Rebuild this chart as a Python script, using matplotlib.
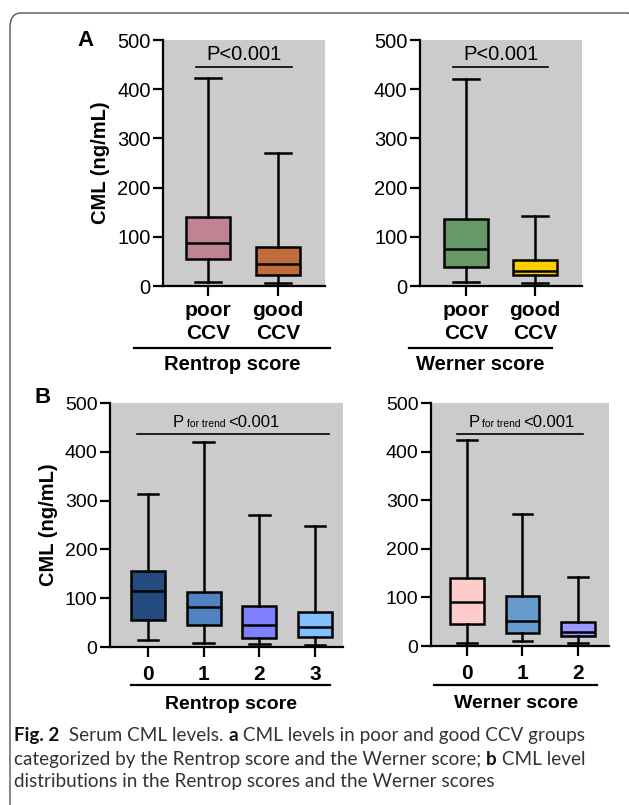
import matplotlib
matplotlib.use("Agg")
import matplotlib.pyplot as plt
from matplotlib.patches import FancyBboxPatch

plt.rcParams['font.family'] = ['Liberation Sans', 'DejaVu Sans']

W, H = 629, 805

# ---- data ----
# panel A: poor vs good CCV
a_labels = ['poor\nCCV', 'good\nCCV']
rentrop_a_min = [9, 7]
rentrop_a_q1 = [54, 22]
rentrop_a_med = [87, 45]
rentrop_a_q3 = [140, 79]
rentrop_a_max = [422, 271]
rentrop_a_colors = ['#c08394', '#c06c3c']

werner_a_min = [9, 7]
werner_a_q1 = [39, 23]
werner_a_med = [76, 30]
werner_a_q3 = [136, 52]
werner_a_max = [421, 142]
werner_a_colors = ['#669966', '#ffcc00']

# panel B: by score
rentrop_b_labels = ['0', '1', '2', '3']
rentrop_b_min = [15, 8, 7, 5]
rentrop_b_q1 = [55, 45, 19, 21]
rentrop_b_med = [115, 82, 45, 42]
rentrop_b_q3 = [156, 113, 84, 72]
rentrop_b_max = [314, 421, 270, 248]
rentrop_b_colors = ['#244b7e', '#5282c0', '#8080ff', '#80c0ff']

werner_b_labels = ['0', '1', '2']
werner_b_min = [7, 11, 6]
werner_b_q1 = [45, 26, 21]
werner_b_med = [91, 52, 28]
werner_b_q3 = [139, 102, 50]
werner_b_max = [423, 271, 141]
werner_b_colors = ['#ffcccc', '#6699cc', '#9999ff']

yticks = [0, 100, 200, 300, 400, 500]


def rect(l, t, r, b):
    return [l / W, 1 - b / H, (r - l) / W, (b - t) / H]


def boxpanel(ax, labels, mins, q1, med, q3, maxs, colors, xlim, width, yfs, xfs, xpad):
    stats = []
    for i in range(len(labels)):
        stats.append(dict(whislo=mins[i], q1=q1[i], med=med[i], q3=q3[i],
                          whishi=maxs[i], label=labels[i]))
    pos = list(range(1, len(labels) + 1))
    lw = 1.8
    bp = ax.bxp(stats, positions=pos, widths=width, capwidths=width * 0.6,
                patch_artist=True, showfliers=False,
                boxprops=dict(linewidth=lw, edgecolor='black'),
                medianprops=dict(color='black', linewidth=lw),
                whiskerprops=dict(color='black', linewidth=lw),
                capprops=dict(color='black', linewidth=lw))
    for patch, c in zip(bp['boxes'], colors):
        patch.set_facecolor(c)
    ax.set_facecolor('#cbcbcb')
    ax.set_xlim(*xlim)
    ax.set_ylim(0, 500)
    ax.set_yticks(yticks)
    for s in ['top', 'right']:
        ax.spines[s].set_visible(False)
    for s in ['left', 'bottom']:
        ax.spines[s].set_linewidth(1.6)
    ax.tick_params(axis='y', length=7, width=1.6, labelsize=yfs, pad=2)
    ax.tick_params(axis='x', length=7, width=1.6, labelsize=xfs, pad=xpad)
    for t in ax.get_xticklabels():
        t.set_fontweight('bold')
        t.set_linespacing(1.25)


def group_bracket(ax, x0, x1, yline, ytext, label, fs):
    tr = ax.get_xaxis_transform()
    ax.plot([x0, x1], [yline, yline], color='black', lw=1.6, transform=tr,
            clip_on=False)
    ax.text((x0 + x1) / 2, ytext, label, transform=tr, ha='center', va='top',
            fontsize=fs, fontweight='bold', clip_on=False)


def trend_text(ax, x, y):
    t1 = ax.text(x, y, 'P', fontsize=12, va='baseline', ha='left')
    t2 = ax.annotate('for trend', xy=(1, y), xycoords=(t1, 'data'),
                     xytext=(2, 0), textcoords='offset points',
                     fontsize=7.5, va='baseline', ha='left')
    ax.annotate('<0.001', xy=(1, y), xycoords=(t2, 'data'),
                xytext=(2, 0), textcoords='offset points',
                fontsize=12, va='baseline', ha='left')


fig = plt.figure(figsize=(W / 100, H / 100), dpi=100)

# frame
frame = FancyBboxPatch((10 / W, -0.05), (640 - 10) / W, 1.05 - 13 / H,
                       boxstyle='round,pad=0,rounding_size=0.018',
                       transform=fig.transFigure, facecolor='none',
                       edgecolor='#555555', lw=1.0, clip_on=False)
fig.patches.append(frame)

# ---- panel A ----
ax1 = fig.add_axes(rect(163, 40, 325, 286))
boxpanel(ax1, a_labels, rentrop_a_min, rentrop_a_q1, rentrop_a_med,
         rentrop_a_q3, rentrop_a_max, rentrop_a_colors, (0.36, 2.67), 0.63,
         14.5, 15, 4)
ax1.set_ylabel('CML (ng/mL)', fontsize=14.5, fontweight='bold')
ax1.yaxis.set_label_coords(-0.33, 0.5)
ax1.plot([0.83, 2.2], [445, 445], color='black', lw=1.2)
ax1.text(1.52, 452, 'P<0.001', ha='center', va='bottom', fontsize=14.5)
group_bracket(ax1, -0.05, 2.74, -0.252, -0.282, 'Rentrop score', 14.5)
fig.text(77 / W, 1 - 40 / H, 'A', fontsize=16, fontweight='bold',
         va='center', ha='left')

ax2 = fig.add_axes(rect(420, 40, 582, 286))
boxpanel(ax2, a_labels, werner_a_min, werner_a_q1, werner_a_med,
         werner_a_q3, werner_a_max, werner_a_colors, (0.33, 2.68), 0.63,
         14.5, 15, 4)
ax2.plot([0.81, 2.19], [445, 445], color='black', lw=1.2)
ax2.text(1.5, 452, 'P<0.001', ha='center', va='bottom', fontsize=14.5)
group_bracket(ax2, 0.17, 2.24, -0.252, -0.282, 'Werner score', 14.5)

# ---- panel B ----
ax3 = fig.add_axes(rect(110, 403, 343, 647))
boxpanel(ax3, rentrop_b_labels, rentrop_b_min, rentrop_b_q1, rentrop_b_med,
         rentrop_b_q3, rentrop_b_max, rentrop_b_colors, (0.32, 4.5), 0.61,
         14, 15, 6)
ax3.set_ylabel('CML (ng/mL)', fontsize=14.5, fontweight='bold')
ax3.yaxis.set_label_coords(-0.225, 0.5)
ax3.plot([0.8, 4.25], [436, 436], color='black', lw=1.2)
trend_text(ax3, 1.45, 450)
group_bracket(ax3, 0.7, 4.27, -0.156, -0.2, 'Rentrop score', 14)
fig.text(35 / W, 1 - 397 / H, 'B', fontsize=16, fontweight='bold',
         va='center', ha='left')

ax4 = fig.add_axes(rect(431, 403, 609, 646))
boxpanel(ax4, werner_b_labels, werner_b_min, werner_b_q1, werner_b_med,
         werner_b_q3, werner_b_max, werner_b_colors, (0.35, 3.56), 0.6,
         14, 15, 6)
ax4.plot([0.82, 3.09], [436, 436], color='black', lw=1.2)
trend_text(ax4, 1.02, 450)
group_bracket(ax4, 0.4, 3.35, -0.16, -0.2, 'Werner score', 14)

# ---- caption ----
cap_lines = [
    [('Fig. 2', 'bold'), ('  Serum CML levels. ', 'normal'), ('a', 'bold'),
     (' CML levels in poor and good CCV groups', 'normal')],
    [('categorized by the Rentrop score and the Werner score; ', 'normal'),
     ('b', 'bold'), (' CML level', 'normal')],
    [('distributions in the Rentrop scores and the Werner scores', 'normal')],
]
cap_base = [741, 765, 787]
cap_font = ['Lato', 'DejaVu Sans']
for parts, yb in zip(cap_lines, cap_base):
    yf = 1 - yb / H
    prev = None
    for txt, wt in parts:
        col = '#111111' if wt == 'bold' else '#333333'
        if prev is None:
            prev = fig.text(14 / W, yf, txt, fontsize=13.6, fontweight=wt,
                            family=cap_font, va='baseline', ha='left', color=col)
        else:
            prev = fig.add_artist(plt.Annotation(
                txt, xy=(1, yf), xycoords=(prev, 'figure fraction'),
                fontsize=13.6, fontweight=wt, family=cap_font,
                va='baseline', ha='left', color=col))

fig.savefig('out.png', dpi=100)
